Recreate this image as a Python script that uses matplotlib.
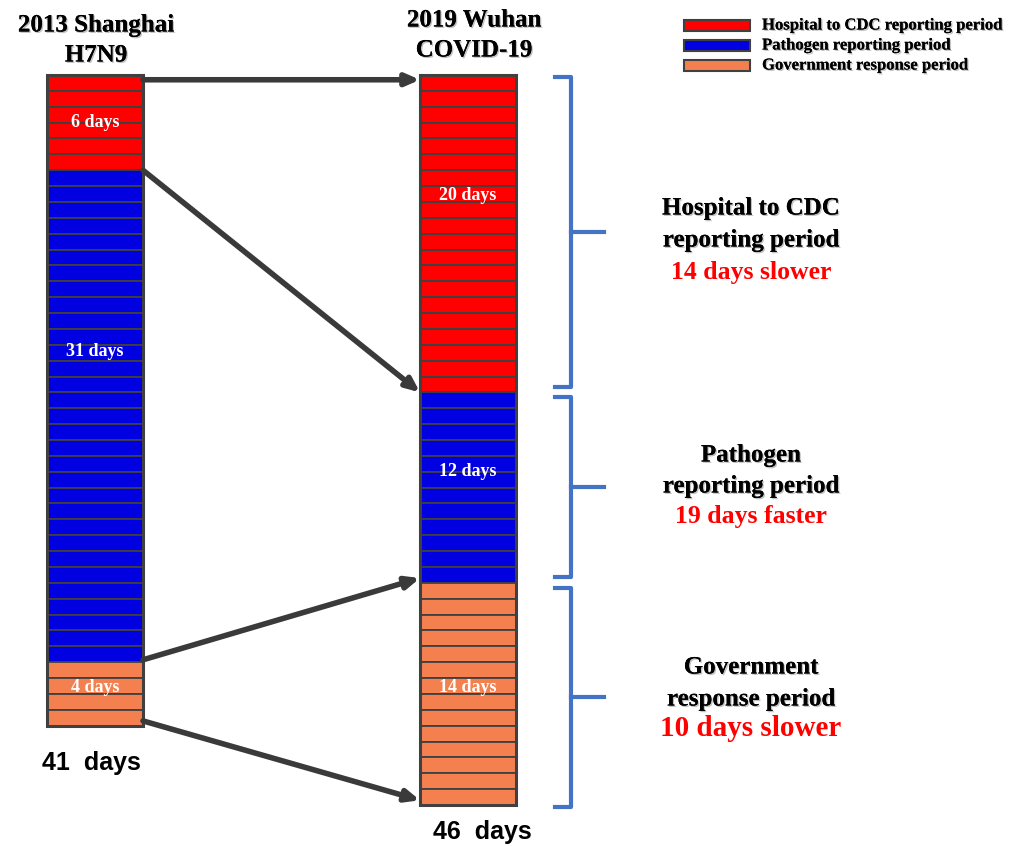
import matplotlib
matplotlib.use("Agg")
import matplotlib.pyplot as plt
import matplotlib.patheffects as pe
from matplotlib.patches import Rectangle
import numpy as np

# ---- data ----
columns = ["2013 Shanghai\nH7N9", "2019 Wuhan\nCOVID-19"]
periods = ["Hospital to CDC reporting period", "Pathogen reporting period", "Government response period"]
shanghai_days = [6, 31, 4]
wuhan_days = [20, 12, 14]
totals_labels = ["41  days", "46  days"]
diff_labels = [("Hospital to CDC\nreporting period", "14 days slower"),
               ("Pathogen\nreporting period", "19 days faster"),
               ("Government\nresponse period", "10 days slower")]
colors = ["#FF0000", "#0000E0", "#F5804F"]

# ---- layout ----
W, H = 1029, 846
U = 15.87          # px per day
TOP = 75           # px of day 0
fig = plt.figure(figsize=(W / 100, H / 100), dpi=100)
ax = fig.add_axes([0, 0, 1, 1])
ax.set_xlim(0, W)
ax.set_ylim((H - TOP) / U, -TOP / U)
ax.axis("off")
ov = fig.add_axes([0, 0, 1, 1])
ov.set_xlim(0, W)
ov.set_ylim(H, 0)
ov.axis("off")
ov.patch.set_alpha(0)

xc = [95, 468]
bw = 96
edge = "#404040"
serif = "Liberation Serif"
sans = "Liberation Sans"
shadow = [pe.withSimplePatchShadow(offset=(1.0, -1.0), shadow_rgbFace="#999999", alpha=0.6), pe.Normal()]

cols_data = [shanghai_days, wuhan_days]
label_pos = [[3.0, 17.4, 38.6], [7.6, 25.0, 38.6]]
for ci, days in enumerate(cols_data):
    start = 0
    for pi, n in enumerate(days):
        for k in range(n):
            ax.bar(xc[ci], 1, bottom=start + k, width=bw, color=colors[pi],
                   edgecolor=edge, linewidth=1.3)
        ax.text(xc[ci], label_pos[ci][pi], f"{n} days", color="white", ha="center",
                va="center", fontsize=13, fontweight="bold", family=serif)
        start += n
    ax.bar(xc[ci], sum(days), bottom=0, width=bw, fill=False, edgecolor=edge, linewidth=2.2)

# column titles
ov.text(96, 25, columns[0].split("\n")[0], ha="center", va="center", fontsize=18,
        fontweight="bold", family=serif, path_effects=shadow)
ov.text(96, 55, columns[0].split("\n")[1], ha="center", va="center", fontsize=18,
        fontweight="bold", family=serif, path_effects=shadow)
ov.text(474, 20, columns[1].split("\n")[0], ha="center", va="center", fontsize=18,
        fontweight="bold", family=serif, path_effects=shadow)
ov.text(474, 50, columns[1].split("\n")[1], ha="center", va="center", fontsize=18,
        fontweight="bold", family=serif, path_effects=shadow)

# totals
ov.text(91, 763, totals_labels[0], ha="center", va="center", fontsize=18,
        fontweight="bold", family=sans)
ov.text(482, 832, totals_labels[1], ha="center", va="center", fontsize=18,
        fontweight="bold", family=sans)

# arrows between boundaries
sb = np.cumsum([0] + shanghai_days)
wb = np.cumsum([0] + wuhan_days)
xl = xc[0] + bw / 2
xr = xc[1] - bw / 2
arrow_pairs = [(sb[0] + 0.3, wb[0] + 0.3), (sb[1], wb[1]), (sb[2] - 0.15, wb[2] - 0.3),
               (sb[3] - 0.3, wb[3] - 0.3)]
for ys, ye in arrow_pairs:
    ax.annotate("", xy=(xr, ye), xytext=(xl, ys),
                arrowprops=dict(arrowstyle="-|>,head_length=0.8,head_width=0.35",
                                color="#3a3a3a", lw=4, shrinkA=0, shrinkB=0))

# braces
bx = 571
bcol = "#4472C4"
for i in range(3):
    y0 = wb[i] + (0.1 if i == 0 else 0.3)
    y1 = wb[i + 1] - 0.35 if i < 2 else wb[i + 1] + 0.1
    ym = (y0 + y1) / 2
    ax.plot([bx - 16, bx, bx, bx - 16], [y0, y0, y1, y1], color=bcol, lw=3,
            solid_joinstyle="round")
    ax.plot([bx, bx + 33], [ym, ym], color=bcol, lw=3)

ann_y = [(208, 240, 272), (455, 486, 517), (667, 699, 729)]
red_sizes = [18.5, 18.5, 21]
for i in range(3):
    l1, l2 = diff_labels[i][0].split("\n")
    ov.text(751, ann_y[i][0], l1, ha="center", va="center", fontsize=18,
            fontweight="bold", family=serif, path_effects=shadow)
    ov.text(751, ann_y[i][1], l2, ha="center", va="center", fontsize=18,
            fontweight="bold", family=serif, path_effects=shadow)
    ov.text(751, ann_y[i][2], diff_labels[i][1], ha="center", va="center",
            fontsize=red_sizes[i], fontweight="bold", family=serif, color="#FF0000")

# legend
for i, p in enumerate(periods):
    y = 25.5 + 20 * i
    ov.add_patch(Rectangle((684, y - 5.5), 66, 11, facecolor=colors[i], edgecolor=edge, lw=1.5))
    ov.text(762, y, p, ha="left", va="center", fontsize=12, fontweight="bold",
            family=serif, path_effects=shadow)

fig.savefig("out.png", dpi=100)
